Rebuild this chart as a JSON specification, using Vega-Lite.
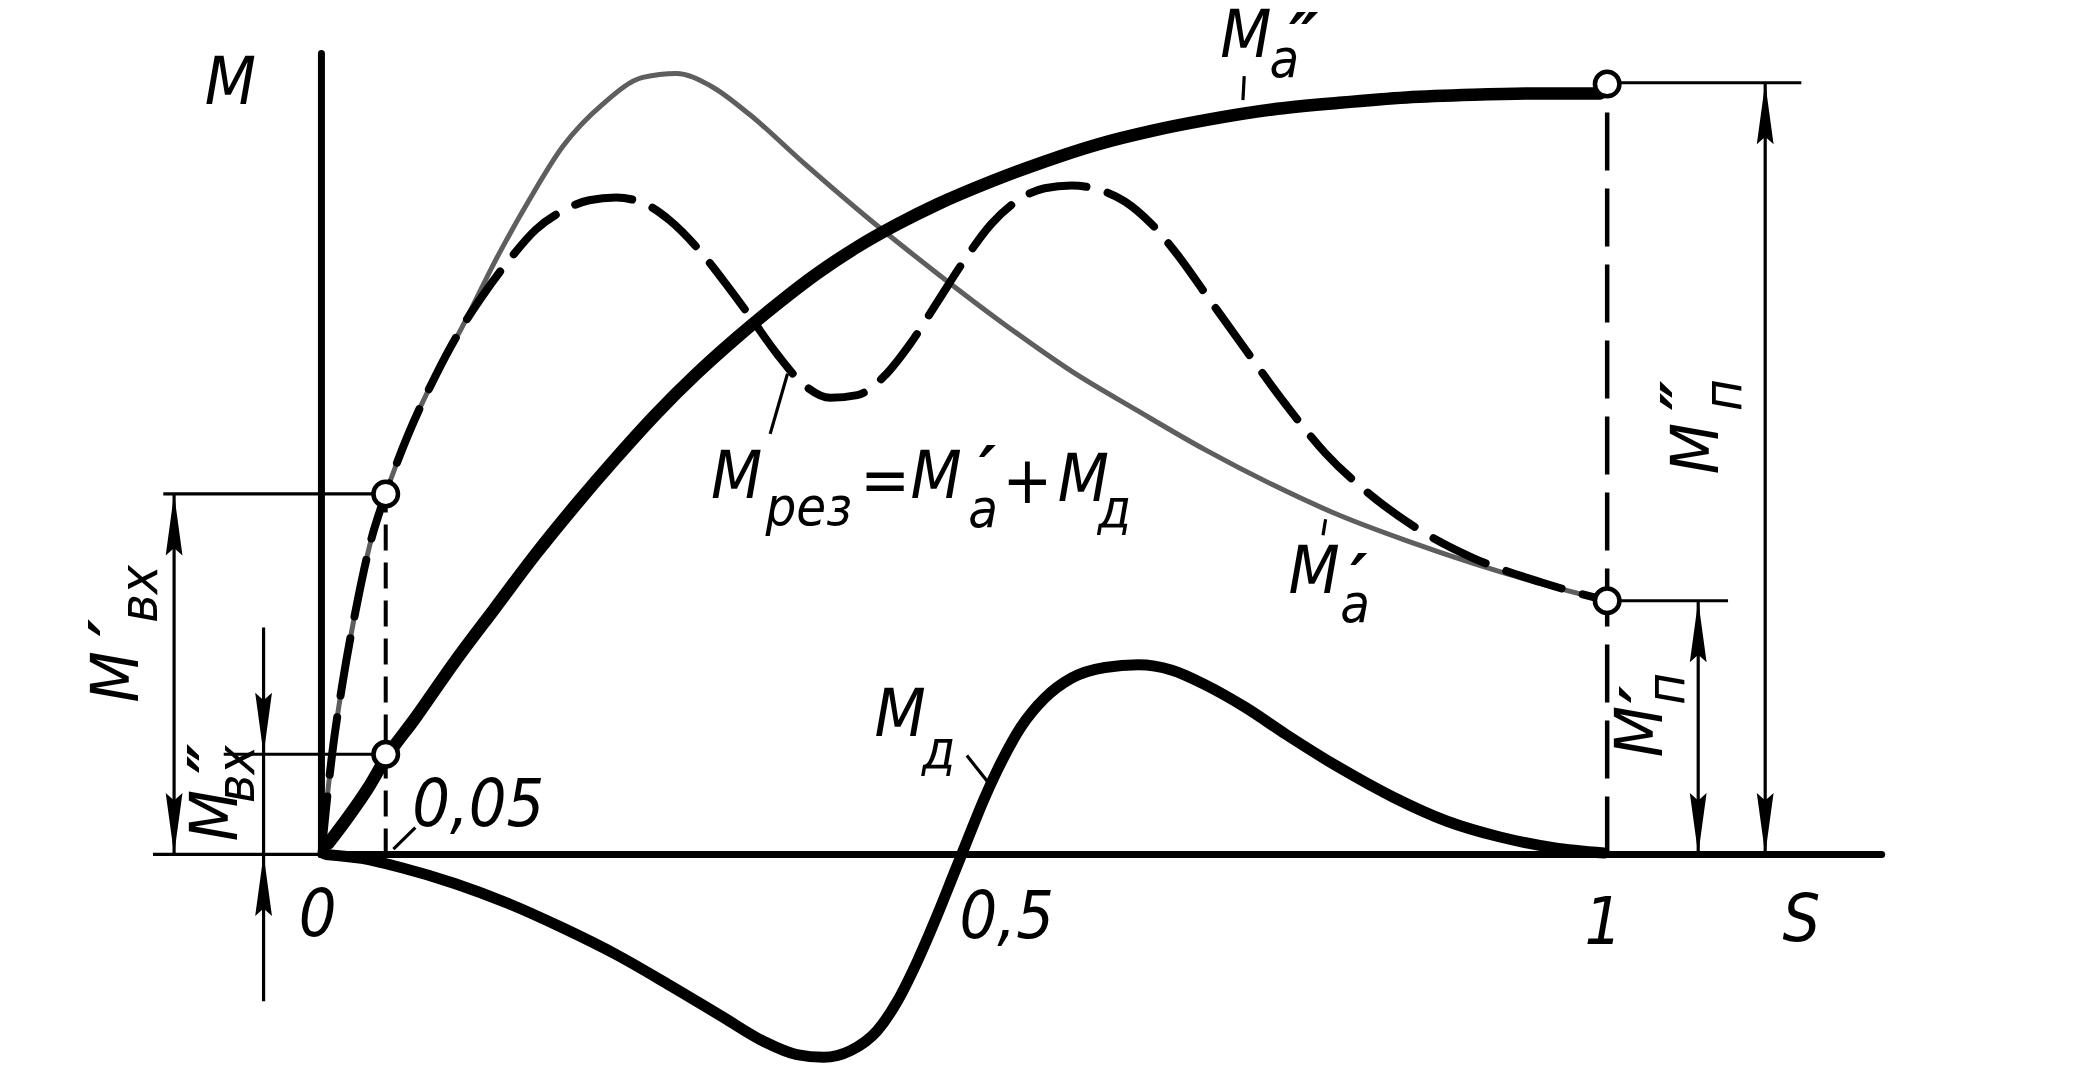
{
  "$schema": "https://vega.github.io/schema/vega-lite/v6.json",
  "width": 2100,
  "height": 1080,
  "autosize": {"type": "fit", "contains": "padding"},
  "padding": 0,
  "background": "white",
  "config": {"view": {"stroke": null}},
  "datasets": {
    "ma1": [
      {"x": 0, "y": 0}, {"x": 0.0031, "y": 0.30}, {"x": 0.0083, "y": 0.75}, {"x": 0.0167, "y": 1.30},
      {"x": 0.0271, "y": 1.85}, {"x": 0.0385, "y": 2.35}, {"x": 0.05, "y": 2.70}, {"x": 0.0677, "y": 3.15},
      {"x": 0.0885, "y": 3.58}, {"x": 0.1094, "y": 3.95}, {"x": 0.1354, "y": 4.45}, {"x": 0.1615, "y": 4.90},
      {"x": 0.1875, "y": 5.30}, {"x": 0.2188, "y": 5.62}, {"x": 0.25, "y": 5.82}, {"x": 0.276, "y": 5.85},
      {"x": 0.3021, "y": 5.76}, {"x": 0.3333, "y": 5.54}, {"x": 0.375, "y": 5.18}, {"x": 0.4271, "y": 4.75},
      {"x": 0.4792, "y": 4.35}, {"x": 0.5313, "y": 3.97}, {"x": 0.5833, "y": 3.62}, {"x": 0.6354, "y": 3.32},
      {"x": 0.6875, "y": 3.03}, {"x": 0.7396, "y": 2.77}, {"x": 0.7917, "y": 2.54}, {"x": 0.8438, "y": 2.35},
      {"x": 0.8958, "y": 2.18}, {"x": 0.9479, "y": 2.03}, {"x": 1.0, "y": 1.90}
    ],
    "mres": [
      {"x": 0, "y": 0}, {"x": 0.0031, "y": 0.30}, {"x": 0.0083, "y": 0.75}, {"x": 0.0167, "y": 1.30},
      {"x": 0.0271, "y": 1.85}, {"x": 0.0385, "y": 2.35}, {"x": 0.05, "y": 2.70}, {"x": 0.0677, "y": 3.15},
      {"x": 0.0885, "y": 3.58}, {"x": 0.1094, "y": 3.95}, {"x": 0.125, "y": 4.18}, {"x": 0.1458, "y": 4.45},
      {"x": 0.1667, "y": 4.68}, {"x": 0.1875, "y": 4.82}, {"x": 0.2083, "y": 4.90}, {"x": 0.2292, "y": 4.92},
      {"x": 0.25, "y": 4.88}, {"x": 0.2708, "y": 4.75}, {"x": 0.2917, "y": 4.55}, {"x": 0.3125, "y": 4.30},
      {"x": 0.3333, "y": 4.03}, {"x": 0.3542, "y": 3.75}, {"x": 0.375, "y": 3.52}, {"x": 0.3958, "y": 3.42},
      {"x": 0.4167, "y": 3.44}, {"x": 0.4375, "y": 3.58}, {"x": 0.4583, "y": 3.83}, {"x": 0.4792, "y": 4.14},
      {"x": 0.5, "y": 4.45}, {"x": 0.5208, "y": 4.72}, {"x": 0.5417, "y": 4.90}, {"x": 0.5625, "y": 4.99},
      {"x": 0.5833, "y": 5.01}, {"x": 0.6042, "y": 4.98}, {"x": 0.625, "y": 4.89}, {"x": 0.6458, "y": 4.72},
      {"x": 0.6667, "y": 4.48}, {"x": 0.6875, "y": 4.20}, {"x": 0.7188, "y": 3.78}, {"x": 0.75, "y": 3.37},
      {"x": 0.7813, "y": 3.00}, {"x": 0.8125, "y": 2.72}, {"x": 0.8542, "y": 2.43}, {"x": 0.8958, "y": 2.22},
      {"x": 0.9479, "y": 2.04}, {"x": 1.0, "y": 1.90}
    ],
    "ma2": [
      {"x": 0.0052, "y": 0.08}, {"x": 0.0208, "y": 0.28}, {"x": 0.0365, "y": 0.50}, {"x": 0.05, "y": 0.72},
      {"x": 0.0729, "y": 1.02}, {"x": 0.1042, "y": 1.45}, {"x": 0.1354, "y": 1.85}, {"x": 0.1667, "y": 2.25},
      {"x": 0.1979, "y": 2.62}, {"x": 0.2292, "y": 2.97}, {"x": 0.2604, "y": 3.30}, {"x": 0.2917, "y": 3.60},
      {"x": 0.3229, "y": 3.87}, {"x": 0.3542, "y": 4.12}, {"x": 0.3854, "y": 4.35}, {"x": 0.4167, "y": 4.55},
      {"x": 0.4479, "y": 4.72}, {"x": 0.4792, "y": 4.87}, {"x": 0.5208, "y": 5.04}, {"x": 0.5625, "y": 5.19},
      {"x": 0.6042, "y": 5.32}, {"x": 0.6458, "y": 5.42}, {"x": 0.6875, "y": 5.50}, {"x": 0.7396, "y": 5.58},
      {"x": 0.7917, "y": 5.63}, {"x": 0.8438, "y": 5.67}, {"x": 0.8958, "y": 5.69}, {"x": 0.9479, "y": 5.70},
      {"x": 0.9948, "y": 5.70}
    ],
    "md": [
      {"x": 0.0031, "y": 0}, {"x": 0.0313, "y": -0.03}, {"x": 0.0625, "y": -0.10}, {"x": 0.1042, "y": -0.22},
      {"x": 0.1458, "y": -0.37}, {"x": 0.1875, "y": -0.55}, {"x": 0.2292, "y": -0.75}, {"x": 0.2708, "y": -0.98},
      {"x": 0.3125, "y": -1.22}, {"x": 0.3438, "y": -1.40}, {"x": 0.3698, "y": -1.50}, {"x": 0.3906, "y": -1.52},
      {"x": 0.4115, "y": -1.47}, {"x": 0.4323, "y": -1.32}, {"x": 0.4479, "y": -1.10}, {"x": 0.4635, "y": -0.80},
      {"x": 0.4792, "y": -0.45}, {"x": 0.4917, "y": -0.15}, {"x": 0.5021, "y": 0.10}, {"x": 0.5156, "y": 0.42},
      {"x": 0.5292, "y": 0.70}, {"x": 0.5438, "y": 0.95}, {"x": 0.5625, "y": 1.17}, {"x": 0.5833, "y": 1.32},
      {"x": 0.6094, "y": 1.40}, {"x": 0.6354, "y": 1.42}, {"x": 0.6615, "y": 1.38}, {"x": 0.6875, "y": 1.27},
      {"x": 0.7188, "y": 1.10}, {"x": 0.75, "y": 0.90}, {"x": 0.7917, "y": 0.65}, {"x": 0.8333, "y": 0.43},
      {"x": 0.875, "y": 0.25}, {"x": 0.9167, "y": 0.13}, {"x": 0.9583, "y": 0.05}, {"x": 0.9979, "y": 0.01}
    ],
    "segs": [
      {"k": "thin", "x": -0.1146, "y": 0, "x2": -0.1146, "y2": 2.70},
      {"k": "thin", "x": -0.045, "y": -1.10, "x2": -0.045, "y2": 1.70},
      {"k": "thin", "x": 1.0708, "y": 0, "x2": 1.0708, "y2": 1.90},
      {"k": "thin", "x": 1.1229, "y": 0, "x2": 1.1229, "y2": 5.78},
      {"k": "thin", "x": -0.123, "y": 2.70, "x2": 0.05, "y2": 2.70},
      {"k": "thin", "x": -0.076, "y": 0.75, "x2": 0.05, "y2": 0.75},
      {"k": "thin", "x": 1.0, "y": 1.90, "x2": 1.094, "y2": 1.90},
      {"k": "thin", "x": 1.0, "y": 5.78, "x2": 1.151, "y2": 5.78},
      {"k": "thin", "x": -0.131, "y": 0, "x2": 0, "y2": 0},
      {"k": "thin", "x": 0.056, "y": 0.04, "x2": 0.073, "y2": 0.20},
      {"k": "thin", "x": 0.349, "y": 3.15, "x2": 0.3625, "y2": 3.60},
      {"k": "thin", "x": 0.502, "y": 0.74, "x2": 0.5177, "y2": 0.55},
      {"k": "thin", "x": 0.7177, "y": 5.83, "x2": 0.7167, "y2": 5.65},
      {"k": "thin", "x": 0.781, "y": 2.51, "x2": 0.779, "y2": 2.39},
      {"k": "axis", "x": 0, "y": 0, "x2": 0, "y2": 6.0},
      {"k": "axis", "x": 0, "y": 0, "x2": 1.2135, "y2": 0},
      {"k": "dash1", "x": 0.05, "y": 0, "x2": 0.05, "y2": 2.70},
      {"k": "dash2", "x": 1.0, "y": 0, "x2": 1.0, "y2": 5.78}
    ],
    "arrows": [
      {"d": "up", "x": -0.1146, "y": 2.70}, {"d": "down", "x": -0.1146, "y": 0},
      {"d": "down", "x": -0.045, "y": 0.75}, {"d": "up", "x": -0.045, "y": 0},
      {"d": "up", "x": 1.0708, "y": 1.90}, {"d": "down", "x": 1.0708, "y": 0},
      {"d": "up", "x": 1.1229, "y": 5.78}, {"d": "down", "x": 1.1229, "y": 0}
    ],
    "circles": [
      {"x": 0.05, "y": 2.70}, {"x": 0.05, "y": 0.75}, {"x": 1.0, "y": 1.90}, {"x": 1.0, "y": 5.77}
    ],
    "labels": [
      {"r": "main", "x": -0.0708, "y": 5.77, "t": "M"},
      {"r": "main", "x": 1.151, "y": -0.50, "t": "S"},
      {"r": "main", "x": -0.003, "y": -0.46, "t": "0"},
      {"r": "main", "x": 0.533, "y": -0.48, "t": "0,5"},
      {"r": "main", "x": 0.997, "y": -0.52, "t": "1"},
      {"r": "main", "x": 0.122, "y": 0.36, "t": "0,05"},
      {"r": "main", "x": 0.719, "y": 6.12, "t": "M"},
      {"r": "main", "x": 0.772, "y": 2.11, "t": "M"},
      {"r": "main", "x": 0.3229, "y": 2.82, "t": "M"},
      {"r": "main", "x": 0.4385, "y": 2.79, "t": "="},
      {"r": "main", "x": 0.478, "y": 2.82, "t": "M"},
      {"r": "main", "x": 0.549, "y": 2.78, "t": "+"},
      {"r": "main", "x": 0.5927, "y": 2.80, "t": "M"},
      {"r": "main", "x": 0.45, "y": 1.04, "t": "M"},
      {"r": "sub", "x": 0.749, "y": 5.94, "t": "a"},
      {"r": "sub", "x": 0.804, "y": 1.86, "t": "a"},
      {"r": "sub", "x": 0.379, "y": 2.59, "t": "рез"},
      {"r": "sub", "x": 0.5146, "y": 2.57, "t": "a"},
      {"r": "sub", "x": 0.6167, "y": 2.57, "t": "д"},
      {"r": "sub", "x": 0.480, "y": 0.77, "t": "д"},
      {"r": "prime", "x": 0.764, "y": 6.10, "t": "″"},
      {"r": "prime", "x": 0.807, "y": 2.05, "t": "′"},
      {"r": "prime", "x": 0.518, "y": 2.86, "t": "′"},
      {"r": "rmain", "x": -0.158, "y": 1.33, "t": "M"},
      {"r": "rmain", "x": -0.081, "y": 0.29, "t": "M"},
      {"r": "rmain", "x": 1.027, "y": 0.92, "t": "M"},
      {"r": "rmain", "x": 1.0708, "y": 3.04, "t": "M"},
      {"r": "rsub", "x": -0.1406, "y": 1.95, "t": "вх"},
      {"r": "rsub", "x": -0.0646, "y": 0.60, "t": "вх"},
      {"r": "rsub", "x": 1.047, "y": 1.24, "t": "п"},
      {"r": "rsub", "x": 1.0917, "y": 3.44, "t": "п"},
      {"r": "rprime", "x": -0.160, "y": 1.70, "t": "′"},
      {"r": "rprime", "x": -0.083, "y": 0.72, "t": "″"},
      {"r": "rprime", "x": 1.031, "y": 1.20, "t": "′"},
      {"r": "rprime", "x": 1.063, "y": 3.44, "t": "″"}
    ]
  },
  "encoding": {
    "x": {"field": "x", "type": "quantitative", "scale": {"domain": [-0.25, 1.3833], "nice": false, "zero": false}, "axis": null},
    "y": {"field": "y", "type": "quantitative", "scale": {"domain": [-1.66, 6.4], "nice": false, "zero": false}, "axis": null}
  },
  "layer": [
    {"data": {"name": "segs"}, "transform": [{"filter": "datum.k == 'thin'"}],
     "mark": {"type": "rule", "color": "black", "strokeWidth": 3.2},
     "encoding": {"x2": {"field": "x2"}, "y2": {"field": "y2"}}},
    {"data": {"name": "segs"}, "transform": [{"filter": "datum.k == 'axis'"}],
     "mark": {"type": "rule", "color": "black", "strokeWidth": 7, "strokeCap": "round"},
     "encoding": {"x2": {"field": "x2"}, "y2": {"field": "y2"}}},
    {"data": {"name": "segs"}, "transform": [{"filter": "datum.k == 'dash1'"}],
     "mark": {"type": "rule", "color": "black", "strokeWidth": 4, "strokeDash": [26, 12]},
     "encoding": {"x2": {"field": "x2"}, "y2": {"field": "y2"}}},
    {"data": {"name": "segs"}, "transform": [{"filter": "datum.k == 'dash2'"}],
     "mark": {"type": "rule", "color": "black", "strokeWidth": 4.5, "strokeDash": [58, 18]},
     "encoding": {"x2": {"field": "x2"}, "y2": {"field": "y2"}}},
    {"data": {"name": "ma1"},
     "mark": {"type": "line", "color": "#5e5e5e", "strokeWidth": 5, "interpolate": "monotone"}},
    {"data": {"name": "mres"},
     "mark": {"type": "line", "color": "black", "strokeWidth": 8, "strokeDash": [58, 22], "strokeCap": "round", "interpolate": "monotone"}},
    {"data": {"name": "ma2"},
     "mark": {"type": "line", "color": "black", "strokeWidth": 12.5, "strokeCap": "round", "interpolate": "monotone"}},
    {"data": {"name": "md"},
     "mark": {"type": "line", "color": "black", "strokeWidth": 11, "strokeCap": "round", "interpolate": "monotone"}},
    {"data": {"name": "arrows"}, "transform": [{"filter": "datum.d == 'up'"}],
     "mark": {"type": "point", "filled": true, "color": "black", "opacity": 1, "size": 3600, "shape": "M0,0L0.28,2.05L0,1.8L-0.28,2.05Z"}},
    {"data": {"name": "arrows"}, "transform": [{"filter": "datum.d == 'down'"}],
     "mark": {"type": "point", "filled": true, "color": "black", "opacity": 1, "size": 3600, "shape": "M0,0L0.28,-2.05L0,-1.8L-0.28,-2.05Z"}},
    {"data": {"name": "circles"},
     "mark": {"type": "point", "shape": "circle", "filled": false, "fill": "white", "fillOpacity": 1, "stroke": "black", "strokeWidth": 4.5, "opacity": 1, "size": 600}},
    {"data": {"name": "labels"}, "transform": [{"filter": "datum.r == 'main'"}],
     "mark": {"type": "text", "font": "'Liberation Sans Narrow', 'DejaVu Sans Condensed', 'DejaVu Sans'", "fontStyle": "italic", "fontSize": 66, "align": "center", "baseline": "middle", "color": "black"},
     "encoding": {"text": {"field": "t"}}},
    {"data": {"name": "labels"}, "transform": [{"filter": "datum.r == 'sub'"}],
     "mark": {"type": "text", "font": "'Liberation Sans Narrow', 'DejaVu Sans Condensed', 'DejaVu Sans'", "fontStyle": "italic", "fontSize": 54, "align": "center", "baseline": "middle", "color": "black"},
     "encoding": {"text": {"field": "t"}}},
    {"data": {"name": "labels"}, "transform": [{"filter": "datum.r == 'prime'"}],
     "mark": {"type": "text", "font": "'DejaVu Sans'", "fontStyle": "italic", "fontWeight": "bold", "fontSize": 66, "align": "center", "baseline": "middle", "color": "black"},
     "encoding": {"text": {"field": "t"}}},
    {"data": {"name": "labels"}, "transform": [{"filter": "datum.r == 'rmain'"}],
     "mark": {"type": "text", "font": "'Liberation Sans Narrow', 'DejaVu Sans Condensed', 'DejaVu Sans'", "fontStyle": "italic", "fontSize": 66, "align": "center", "baseline": "middle", "angle": 270, "color": "black"},
     "encoding": {"text": {"field": "t"}}},
    {"data": {"name": "labels"}, "transform": [{"filter": "datum.r == 'rsub'"}],
     "mark": {"type": "text", "font": "'Liberation Sans Narrow', 'DejaVu Sans Condensed', 'DejaVu Sans'", "fontStyle": "italic", "fontSize": 54, "align": "center", "baseline": "middle", "angle": 270, "color": "black"},
     "encoding": {"text": {"field": "t"}}},
    {"data": {"name": "labels"}, "transform": [{"filter": "datum.r == 'rprime'"}],
     "mark": {"type": "text", "font": "'DejaVu Sans'", "fontStyle": "italic", "fontWeight": "bold", "fontSize": 66, "align": "center", "baseline": "middle", "angle": 270, "color": "black"},
     "encoding": {"text": {"field": "t"}}}
  ]
}
